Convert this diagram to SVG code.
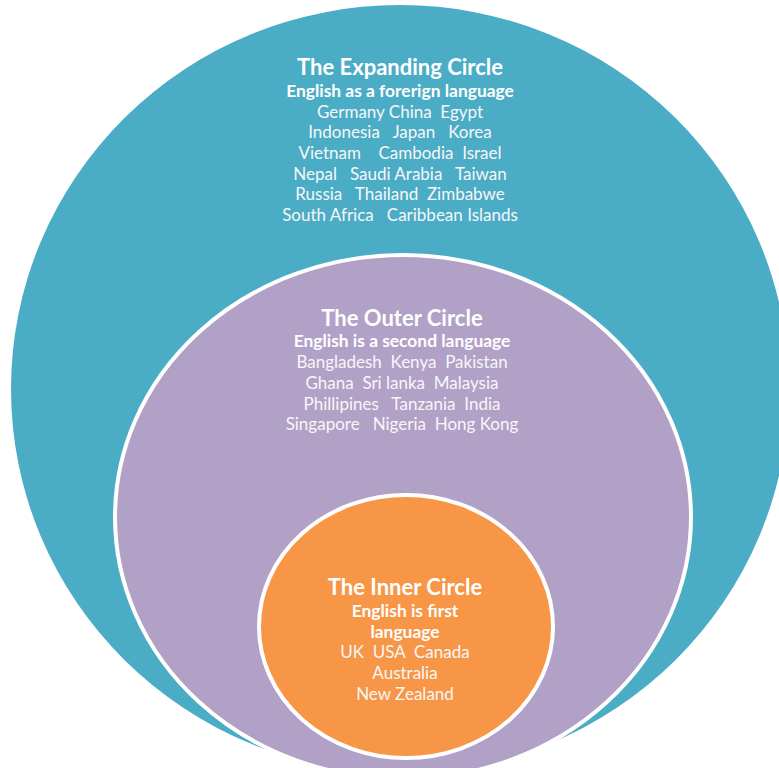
<svg xmlns="http://www.w3.org/2000/svg" width="779" height="768" viewBox="0 0 779 768">
<style>
text{font-family:Lato,"Open Sans","Liberation Sans",sans-serif;fill:#ffffff;text-anchor:middle;white-space:pre}
.t{font-size:22px;font-weight:bold}
.s{font-size:17.4px;font-weight:bold}
.l{font-size:17px;fill:#f7f7f7}
</style>
<rect width="779" height="768" fill="#ffffff"/>
<g id="expanding">
<ellipse cx="400" cy="389" rx="389" ry="384" fill="#4BACC6"/>
<text class="t" x="400" y="75">The Expanding Circle</text>
<text class="s" x="400" y="97">English as a forerign language</text>
<text class="l" x="400" y="118">Germany China  Egypt</text>
<text class="l" x="400" y="138">Indonesia   Japan   Korea</text>
<text class="l" x="400" y="159">Vietnam    Cambodia  Israel</text>
<text class="l" x="400" y="180">Nepal   Saudi Arabia   Taiwan</text>
<text class="l" x="400" y="200">Russia   Thailand  Zimbabwe</text>
<text class="l" x="400" y="221">South Africa   Caribbean Islands</text>
</g>
<g id="outer">
<ellipse cx="403" cy="517" rx="288" ry="262" fill="#B2A1C7" stroke="#ffffff" stroke-width="4"/>
<text class="t" x="402" y="326">The Outer Circle</text>
<text class="s" x="402" y="347">English is a second language</text>
<text class="l" x="402" y="368">Bangladesh  Kenya  Pakistan</text>
<text class="l" x="402" y="389">Ghana  Sri lanka  Malaysia</text>
<text class="l" x="402" y="410">Phillipines   Tanzania  India</text>
<text class="l" x="402" y="430">Singapore   Nigeria  Hong Kong</text>
</g>
<g id="inner">
<ellipse cx="406" cy="626.5" rx="147" ry="131.5" fill="#F79646" stroke="#ffffff" stroke-width="4"/>
<text class="t" x="405" y="595">The Inner Circle</text>
<text class="s" x="405" y="617">English is first</text>
<text class="s" x="405" y="638">language</text>
<text class="l" x="405" y="658">UK  USA  Canada</text>
<text class="l" x="405" y="679">Australia</text>
<text class="l" x="405" y="700">New Zealand</text>
</g>
<g id="connectors"/>
</svg>
